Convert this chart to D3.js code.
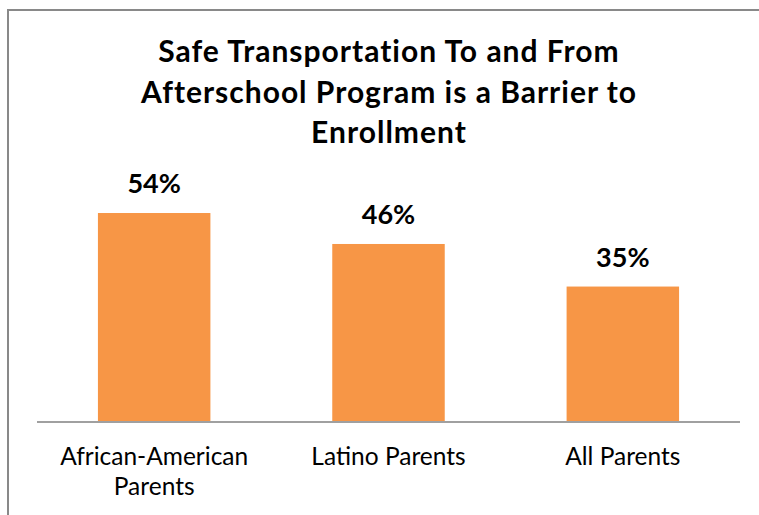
<!DOCTYPE html>
<html>
<head>
<meta charset="utf-8">
<script src="https://cdn.jsdelivr.net/npm/d3@7"></script>
<style>
  body { margin: 0; background: #fff; }
  svg { display: block; }
</style>
</head>
<body>
<svg width="759" height="515"></svg>
<script>
const categories = [["African-American", "Parents"], ["Latino Parents"], ["All Parents"]];
const values = [54, 46, 35];
const titleLines = ["Safe Transportation To and From", "Afterschool Program is a Barrier to", "Enrollment"];

const svg = d3.select("svg"),
  width = +svg.attr("width"),
  height = +svg.attr("height");

const font = "Lato, 'Open Sans', sans-serif";

// chart frame (right and bottom edges fall outside the picture)
svg.append("rect")
  .attr("x", 8).attr("y", 10)
  .attr("width", 780).attr("height", 540)
  .attr("fill", "none")
  .attr("stroke", "#898989")
  .attr("stroke-width", 2);

const x = d3.scaleBand()
  .domain(d3.range(values.length))
  .range([37, 740])
  .paddingInner(0.52)
  .paddingOuter(0.26);

const y = d3.scaleLinear()
  .domain([0, 60])
  .range([422, 189.8]);

// title
svg.append("text")
  .attr("x", 389)
  .attr("y", 62)
  .attr("text-anchor", "middle")
  .style("font-family", font)
  .style("font-weight", "bold")
  .style("font-size", "30px")
  .style("letter-spacing", "1px")
  .selectAll("tspan")
  .data(titleLines)
  .enter().append("tspan")
  .attr("x", 389)
  .attr("dy", (d, i) => i === 0 ? 0 : 40.5)
  .text(d => d);

// bars
svg.append("g")
  .selectAll("rect")
  .data(values)
  .enter().append("rect")
  .attr("x", (d, i) => x(i))
  .attr("y", d => y(d))
  .attr("width", x.bandwidth())
  .attr("height", d => y(0) - y(d))
  .attr("fill", "#F79646");

// value labels
svg.append("g")
  .selectAll("text")
  .data(values)
  .enter().append("text")
  .attr("x", (d, i) => x(i) + x.bandwidth() / 2)
  .attr("y", d => y(d) - 20)
  .attr("text-anchor", "middle")
  .style("font-family", font)
  .style("font-weight", "bold")
  .style("font-size", "27px")
  .text(d => d + "%");

// category axis
const axis = svg.append("g")
  .attr("transform", `translate(0,${y(0)})`)
  .call(d3.axisBottom(x).tickSize(0).tickFormat(""));
axis.select(".domain")
  .attr("d", "M37,0H740")
  .attr("stroke", "#a0a0a0")
  .attr("stroke-width", 2);

const catLabels = svg.append("g")
  .selectAll("text")
  .data(categories)
  .enter().append("text")
  .attr("text-anchor", "middle")
  .style("font-family", font)
  .style("font-size", "24.5px")
  .attr("fill", "#000");
catLabels.selectAll("tspan")
  .data((d, i) => d.map(t => ({t, i})))
  .enter().append("tspan")
  .attr("x", d => x(d.i) + x.bandwidth() / 2)
  .attr("y", (d, j) => y(0) + 43 + j * 30)
  .text(d => d.t);
</script>
</body>
</html>
